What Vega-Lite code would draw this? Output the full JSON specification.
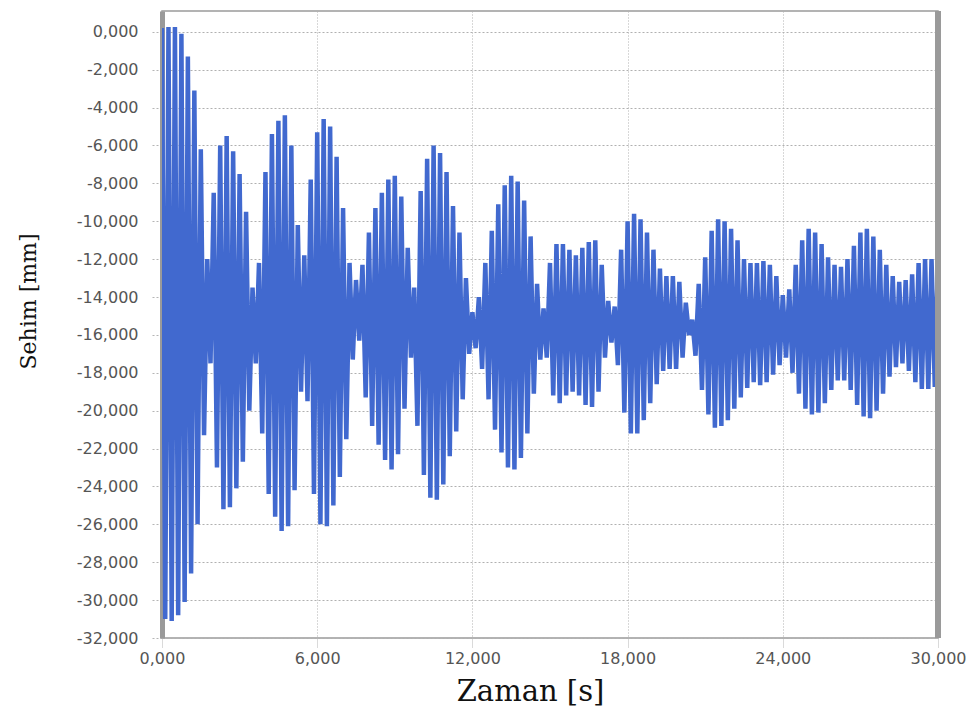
{
  "$schema": "https://vega.github.io/schema/vega-lite/v6.json",
  "width": 776,
  "height": 627,
  "autosize": {"type": "none"},
  "padding": {"left": 162, "top": 11, "right": 42, "bottom": 73},
  "background": "white",
  "config": {
    "locale": {"number": {"decimal": ",", "thousands": ".", "grouping": [3], "currency": ["", ""], "minus": "-"}},
    "view": {"stroke": "#9a9a9a", "strokeWidth": 1.5}
  },
  "data": {"values": [
    {"t":0,"s":0.2},{"t":0.125,"s":-31.0},{"t":0.25,"s":0.25},{"t":0.375,"s":-31.1},{"t":0.5,"s":0.25},{"t":0.625,"s":-30.8},{"t":0.75,"s":-0.1},{"t":0.875,"s":-30.1},
    {"t":1.0,"s":-1.3},{"t":1.125,"s":-28.6},{"t":1.25,"s":-3.1},{"t":1.375,"s":-26.0},{"t":1.5,"s":-6.2},{"t":1.625,"s":-21.3},{"t":1.75,"s":-12.0},{"t":1.875,"s":-17.5},
    {"t":2.0,"s":-8.5},{"t":2.125,"s":-23.0},{"t":2.25,"s":-6.0},{"t":2.375,"s":-25.2},{"t":2.5,"s":-5.5},{"t":2.625,"s":-25.1},{"t":2.75,"s":-6.3},{"t":2.875,"s":-24.1},
    {"t":3.0,"s":-7.5},{"t":3.125,"s":-22.7},{"t":3.25,"s":-9.5},{"t":3.375,"s":-20.0},{"t":3.5,"s":-13.5},{"t":3.625,"s":-17.5},{"t":3.75,"s":-12.2},{"t":3.875,"s":-21.2},
    {"t":4.0,"s":-7.4},{"t":4.125,"s":-24.4},{"t":4.25,"s":-5.4},{"t":4.375,"s":-25.6},{"t":4.5,"s":-4.7},{"t":4.625,"s":-26.35},{"t":4.75,"s":-4.4},{"t":4.875,"s":-26.1},
    {"t":5.0,"s":-6.0},{"t":5.125,"s":-24.2},{"t":5.25,"s":-10.2},{"t":5.375,"s":-19.0},{"t":5.5,"s":-11.8},{"t":5.625,"s":-19.5},{"t":5.75,"s":-7.8},{"t":5.875,"s":-24.4},
    {"t":6.0,"s":-5.3},{"t":6.125,"s":-26.0},{"t":6.25,"s":-4.6},{"t":6.375,"s":-26.1},{"t":6.5,"s":-5.0},{"t":6.625,"s":-25.0},{"t":6.75,"s":-6.6},{"t":6.875,"s":-23.5},
    {"t":7.0,"s":-9.3},{"t":7.125,"s":-21.5},{"t":7.25,"s":-12.2},{"t":7.375,"s":-17.3},{"t":7.5,"s":-13.1},{"t":7.625,"s":-16.3},{"t":7.75,"s":-12.3},{"t":7.875,"s":-19.3},
    {"t":8.0,"s":-10.6},{"t":8.125,"s":-20.8},{"t":8.25,"s":-9.3},{"t":8.375,"s":-21.8},{"t":8.5,"s":-8.5},{"t":8.625,"s":-22.6},{"t":8.75,"s":-7.8},{"t":8.875,"s":-23.1},
    {"t":9.0,"s":-7.6},{"t":9.125,"s":-22.3},{"t":9.25,"s":-8.7},{"t":9.375,"s":-19.9},{"t":9.5,"s":-11.4},{"t":9.625,"s":-17.2},{"t":9.75,"s":-13.5},{"t":9.875,"s":-20.8},
    {"t":10.0,"s":-8.4},{"t":10.125,"s":-23.4},{"t":10.25,"s":-6.7},{"t":10.375,"s":-24.6},{"t":10.5,"s":-6.0},{"t":10.625,"s":-24.7},{"t":10.75,"s":-6.4},{"t":10.875,"s":-23.9},
    {"t":11.0,"s":-7.4},{"t":11.125,"s":-22.4},{"t":11.25,"s":-9.2},{"t":11.375,"s":-21.1},{"t":11.5,"s":-10.6},{"t":11.625,"s":-19.4},{"t":11.75,"s":-13.0},{"t":11.875,"s":-17.0},
    {"t":12.0,"s":-14.8},{"t":12.125,"s":-16.7},{"t":12.25,"s":-14.0},{"t":12.375,"s":-17.8},{"t":12.5,"s":-12.2},{"t":12.625,"s":-19.4},{"t":12.75,"s":-10.5},{"t":12.875,"s":-21.0},
    {"t":13.0,"s":-9.1},{"t":13.125,"s":-22.2},{"t":13.25,"s":-8.1},{"t":13.375,"s":-23.0},{"t":13.5,"s":-7.6},{"t":13.625,"s":-23.1},{"t":13.75,"s":-7.9},{"t":13.875,"s":-22.5},
    {"t":14.0,"s":-8.9},{"t":14.125,"s":-21.2},{"t":14.25,"s":-10.8},{"t":14.375,"s":-19.1},{"t":14.5,"s":-13.3},{"t":14.625,"s":-17.3},{"t":14.75,"s":-14.6},{"t":14.875,"s":-17.2},
    {"t":15.0,"s":-12.2},{"t":15.125,"s":-19.2},{"t":15.25,"s":-11.2},{"t":15.375,"s":-19.6},{"t":15.5,"s":-11.2},{"t":15.625,"s":-19.2},{"t":15.75,"s":-11.5},{"t":15.875,"s":-19.0},
    {"t":16.0,"s":-11.8},{"t":16.125,"s":-19.2},{"t":16.25,"s":-11.4},{"t":16.375,"s":-19.7},{"t":16.5,"s":-11.1},{"t":16.625,"s":-19.8},{"t":16.75,"s":-11.0},{"t":16.875,"s":-19.0},
    {"t":17.0,"s":-12.3},{"t":17.125,"s":-17.2},{"t":17.25,"s":-14.2},{"t":17.375,"s":-16.4},{"t":17.5,"s":-14.5},{"t":17.625,"s":-17.6},{"t":17.75,"s":-11.5},{"t":17.875,"s":-20.1},
    {"t":18.0,"s":-10.0},{"t":18.125,"s":-21.2},{"t":18.25,"s":-9.6},{"t":18.375,"s":-21.2},{"t":18.5,"s":-9.9},{"t":18.625,"s":-20.5},{"t":18.75,"s":-10.6},{"t":18.875,"s":-19.6},
    {"t":19.0,"s":-11.5},{"t":19.125,"s":-18.6},{"t":19.25,"s":-12.5},{"t":19.375,"s":-17.9},{"t":19.5,"s":-12.9},{"t":19.625,"s":-17.8},{"t":19.75,"s":-12.9},{"t":19.875,"s":-17.8},
    {"t":20.0,"s":-13.2},{"t":20.125,"s":-17.2},{"t":20.25,"s":-14.3},{"t":20.375,"s":-16.0},{"t":20.5,"s":-15.2},{"t":20.625,"s":-17.1},{"t":20.75,"s":-13.3},{"t":20.875,"s":-18.9},
    {"t":21.0,"s":-11.9},{"t":21.125,"s":-20.2},{"t":21.25,"s":-10.5},{"t":21.375,"s":-20.9},{"t":21.5,"s":-9.9},{"t":21.625,"s":-20.8},{"t":21.75,"s":-10.0},{"t":21.875,"s":-20.5},
    {"t":22.0,"s":-10.4},{"t":22.125,"s":-19.9},{"t":22.25,"s":-11.0},{"t":22.375,"s":-19.3},{"t":22.5,"s":-12.0},{"t":22.625,"s":-18.8},{"t":22.75,"s":-12.2},{"t":22.875,"s":-18.5},
    {"t":23.0,"s":-12.2},{"t":23.125,"s":-18.65},{"t":23.25,"s":-12.1},{"t":23.375,"s":-18.5},{"t":23.5,"s":-12.3},{"t":23.625,"s":-18.1},{"t":23.75,"s":-12.9},{"t":23.875,"s":-17.6},
    {"t":24.0,"s":-13.9},{"t":24.125,"s":-17.2},{"t":24.25,"s":-13.6},{"t":24.375,"s":-18.0},{"t":24.5,"s":-12.3},{"t":24.625,"s":-19.1},{"t":24.75,"s":-11.0},{"t":24.875,"s":-19.9},
    {"t":25.0,"s":-10.4},{"t":25.125,"s":-20.2},{"t":25.25,"s":-10.6},{"t":25.375,"s":-20.1},{"t":25.5,"s":-11.2},{"t":25.625,"s":-19.6},{"t":25.75,"s":-11.9},{"t":25.875,"s":-18.9},
    {"t":26.0,"s":-12.3},{"t":26.125,"s":-18.4},{"t":26.25,"s":-12.4},{"t":26.375,"s":-18.4},{"t":26.5,"s":-12.0},{"t":26.625,"s":-18.9},{"t":26.75,"s":-11.3},{"t":26.875,"s":-19.7},
    {"t":27.0,"s":-10.6},{"t":27.125,"s":-20.3},{"t":27.25,"s":-10.4},{"t":27.375,"s":-20.4},{"t":27.5,"s":-10.8},{"t":27.625,"s":-20.0},{"t":27.75,"s":-11.5},{"t":27.875,"s":-19.1},
    {"t":28.0,"s":-12.3},{"t":28.125,"s":-18.2},{"t":28.25,"s":-12.9},{"t":28.375,"s":-17.7},{"t":28.5,"s":-13.2},{"t":28.625,"s":-17.5},{"t":28.75,"s":-13.1},{"t":28.875,"s":-17.9},
    {"t":29.0,"s":-12.8},{"t":29.125,"s":-18.5},{"t":29.25,"s":-12.2},{"t":29.375,"s":-18.85},{"t":29.5,"s":-12.0},{"t":29.625,"s":-18.85},{"t":29.75,"s":-12.0},{"t":29.875,"s":-18.75},
    {"t":30.0,"s":-12.0}
  ]},
  "layer": [
    {
      "mark": {"type": "line", "color": "#4169cf", "strokeWidth": 4.5, "strokeJoin": "bevel", "clip": true},
      "encoding": {
        "x": {
          "field": "t", "type": "quantitative",
          "scale": {"domain": [0, 30], "nice": false, "zero": false},
          "axis": {
            "values": [0, 6, 12, 18, 24, 30], "format": ".3f",
            "title": "Zaman [s]",
            "titleFont": "DejaVu Serif", "titleFontSize": 29, "titleFontWeight": "normal", "titleColor": "#111",
            "titleX": 368, "titleY": 53, "titleBaseline": "middle", "titleAlign": "center", "titleAnchor": null,
            "labelFont": "DejaVu Sans", "labelFontSize": 16, "labelColor": "#555", "labelPadding": 3,
            "labelFlush": false,
            "domain": false,
            "ticks": true, "tickSize": 9, "tickColor": "#b5b5b5", "tickDash": [1, 1],
            "grid": true, "gridColor": "#b0b0b0", "gridDash": [1, 2], "gridWidth": 1
          }
        },
        "y": {
          "field": "s", "type": "quantitative",
          "scale": {"domain": [-32, 1.1], "nice": false, "zero": false},
          "axis": {
            "values": [0, -2, -4, -6, -8, -10, -12, -14, -16, -18, -20, -22, -24, -26, -28, -30, -32],
            "format": ".3f",
            "title": "Sehim [mm]",
            "titleFont": "DejaVu Serif", "titleFontSize": 22, "titleFontWeight": "normal", "titleColor": "#111",
            "titleX": -134, "titleY": 290, "titleBaseline": "middle", "titleAlign": "center", "titleAngle": -90,
            "labelFont": "DejaVu Sans", "labelFontSize": 16, "labelColor": "#555", "labelPadding": 12,
            "labelFlush": false,
            "domain": true, "domainColor": "#9a9a9a", "domainWidth": 5,
            "ticks": true, "tickSize": 12, "tickColor": "#b5b5b5", "tickDash": [2, 2],
            "grid": true, "gridColor": "#b0b0b0", "gridDash": [2, 2], "gridWidth": 1
          }
        }
      }
    },
    {
      "mark": {"type": "rule", "color": "#9a9a9a", "strokeWidth": 5},
      "encoding": {"x": {"datum": 30}}
    }
  ]
}
